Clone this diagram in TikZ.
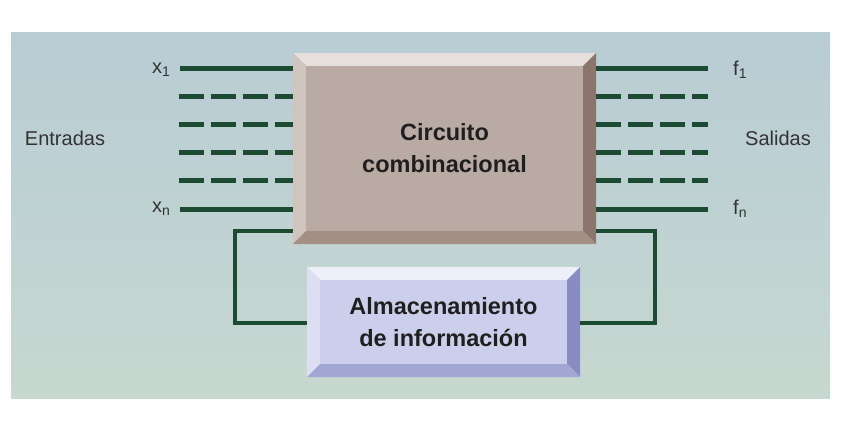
\documentclass[tikz,border=0pt]{standalone}
\usepackage{fontspec}
\setmainfont{Liberation Sans}
\usetikzlibrary{positioning}

\definecolor{panelTop}{HTML}{B8CCD4}
\definecolor{panelBot}{HTML}{C7D8D0}
\definecolor{wire}{HTML}{1D4A32}
\definecolor{combFace}{HTML}{B9ABA3}
\definecolor{combLight}{HTML}{E6E0DD}
\definecolor{combSide}{HTML}{D0C4BE}
\definecolor{combDark}{HTML}{8A766C}
\definecolor{combLow}{HTML}{A38F84}
\definecolor{memFace}{HTML}{CBCFEB}
\definecolor{memLight}{HTML}{EDEFF9}
\definecolor{memSide}{HTML}{DCDFF2}
\definecolor{memDark}{HTML}{888CC2}
\definecolor{memLow}{HTML}{A2A6D2}

\tikzset{
  block/.style={inner sep=0pt, align=center, font=\fontsize{23.5}{32}\selectfont\bfseries,
    text=black!88},
  lbl/.style={font=\fontsize{20}{24}\selectfont, text=black!80, inner sep=0pt},
  wireline/.style={wire, line width=5pt},
  wiredash/.style={wire, line width=5pt, dash pattern=on 25pt off 7pt},
  loopline/.style={wire, line width=4pt, line join=miter}
}

\begin{document}
\begin{tikzpicture}[x=1pt,y=-1pt]

  \newcommand\Bv{13};
  \newcommand\Dy{28.2};

  \useasboundingbox (0,0) rectangle (843,423);
  \fill[white] (0,0) rectangle (843,423);
  \shade[top color=panelTop, bottom color=panelBot] (11,32) rectangle (830,398);

  %% blocks
  \node[block, fill=combFace, minimum width=303pt, minimum height=191pt]
    (comb) at (444.5,148.5) {Circuito\\combinacional};
  \node[block, fill=memFace, minimum width=273pt, minimum height=110pt]
    (mem) at (443.5,322) {Almacenamiento\\de información};

  %% bevels
  \fill[combLight] (comb.north west) -- (comb.north east)
    -- ([shift={(-\Bv,\Bv)}]comb.north east) -- ([shift={(\Bv,\Bv)}]comb.north west) -- cycle;
  \fill[combSide] (comb.north west) -- ([shift={(\Bv,\Bv)}]comb.north west)
    -- ([shift={(\Bv,-\Bv)}]comb.south west) -- (comb.south west) -- cycle;
  \fill[combDark] (comb.north east) -- ([shift={(-\Bv,\Bv)}]comb.north east)
    -- ([shift={(-\Bv,-\Bv)}]comb.south east) -- (comb.south east) -- cycle;
  \fill[combLow] (comb.south west) -- ([shift={(\Bv,-\Bv)}]comb.south west)
    -- ([shift={(-\Bv,-\Bv)}]comb.south east) -- (comb.south east) -- cycle;

  \fill[memLight] (mem.north west) -- (mem.north east)
    -- ([shift={(-\Bv,\Bv)}]mem.north east) -- ([shift={(\Bv,\Bv)}]mem.north west) -- cycle;
  \fill[memSide] (mem.north west) -- ([shift={(\Bv,\Bv)}]mem.north west)
    -- ([shift={(\Bv,-\Bv)}]mem.south west) -- (mem.south west) -- cycle;
  \fill[memDark] (mem.north east) -- ([shift={(-\Bv,\Bv)}]mem.north east)
    -- ([shift={(-\Bv,-\Bv)}]mem.south east) -- (mem.south east) -- cycle;
  \fill[memLow] (mem.south west) -- ([shift={(\Bv,-\Bv)}]mem.south west)
    -- ([shift={(-\Bv,-\Bv)}]mem.south east) -- (mem.south east) -- cycle;

  %% labels
  \node[lbl] (inlbl) at (65,138) {Entradas};
  \node[lbl] (outlbl) at (778,138) {Salidas};
  \node[lbl, anchor=west] (x1) at (152,70) {x\textsubscript{1}};
  \node[lbl, anchor=west] (xn) at (152,209) {x\textsubscript{n}};
  \node[lbl, anchor=west] (f1) at (733,70) {f\textsubscript{1}};
  \node[lbl, anchor=west] (fn) at (733,209) {f\textsubscript{n}};

  %% wire ends
  \coordinate (in1) at (180,68);
  \coordinate (inN) at (180,209);
  \coordinate (out1) at (708,68);
  \coordinate (outN) at (708,209);

  \draw[wireline] (in1) -- (comb.west |- in1);
  \draw[wireline] (inN) -- (comb.west |- inN);
  \draw[wireline] (comb.east |- out1) -- (out1);
  \draw[wireline] (comb.east |- outN) -- (outN);

  \foreach \k in {1,...,4}{
    \coordinate (ind\k) at (179,68+\k*\Dy);
    \coordinate (outd\k) at (708,68+\k*\Dy);
    \draw[wiredash] (ind\k) -- (comb.west |- ind\k);
    \draw[wiredash] (comb.east |- outd\k) -- (outd\k);
  }

  %% feedback loop
  \coordinate (lt) at (235,231);
  \coordinate (lb) at (235,323);
  \coordinate (rt) at (655,231);
  \coordinate (rb) at (655,323);
  \draw[loopline] (comb.west |- lt) -- (lt) -- (lb) -- (mem.west |- lb);
  \draw[loopline] (comb.east |- rt) -- (rt) -- (rb) -- (mem.east |- rb);

\end{tikzpicture}
\end{document}
